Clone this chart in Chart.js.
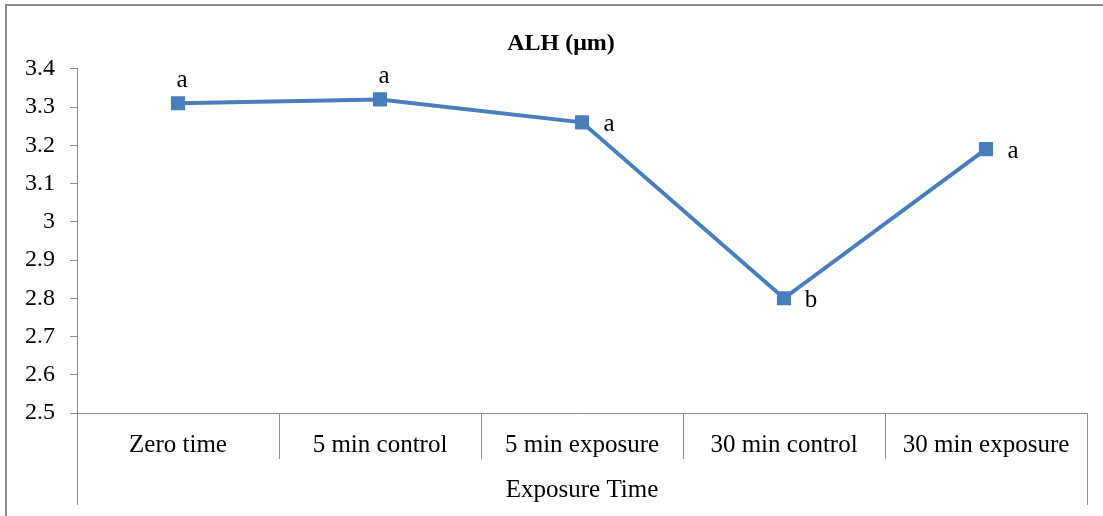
<!DOCTYPE html>
<html lang="en">
<head>
    <meta charset="UTF-8">
    <title>ALH</title>
    <script src="https://cdn.jsdelivr.net/npm/chart.js"></script>
    <style>
        html, body { margin: 0; padding: 0; background: #fff; overflow: hidden; }
        .frame { position: absolute; left: 5px; top: 4px; width: 1200px; height: 600px; border: 2px solid #8c8c8c; }
        .wrap { position: absolute; left: 0; top: 0; width: 1103px; height: 516px; }
    </style>
</head>
<body>
    <div class="frame"></div>
    <div class="wrap"><canvas id="alh"></canvas></div>

<script>
// values
var categories = ['Zero time', '5 min control', '5 min exposure', '30 min control', '30 min exposure'];
var alhValues = [3.31, 3.32, 3.26, 2.80, 3.19];
var letters = ['a', 'a', 'a', 'b', 'a'];
var yMin = 2.5;
var yMax = 3.4;
var yStep = 0.1;

var serif = "'Liberation Serif', 'Times New Roman', serif";
var axisGray = '#8c8c8c';

// significance letters next to each point
var letterPlugin = {
    id: 'letters',
    afterDatasetsDraw: function (chart, args, opts) {
        var ctx = chart.ctx;
        var meta = chart.getDatasetMeta(0);
        ctx.save();
        ctx.font = '25px ' + serif;
        ctx.fillStyle = '#000';
        ctx.textAlign = 'center';
        ctx.textBaseline = 'alphabetic';
        meta.data.forEach(function (pt, i) {
            if (opts.side[i] === 'top') {
                ctx.fillText(letters[i], pt.x + 4, pt.y - 16);
            } else {
                ctx.fillText(letters[i], pt.x + 27, pt.y + 9);
            }
        });
        ctx.restore();
    }
};

// outer category lines run down past the axis title,
// and the title sits a bit right like in the original
var frameLines = {
    id: 'frameLines',
    afterLayout: function (chart) {
        if (chart.titleBlock) chart.titleBlock.left = 35;
    },
    afterDraw: function (chart) {
        var ctx = chart.ctx;
        var area = chart.chartArea;
        var xs = chart.scales.x;
        ctx.save();
        ctx.strokeStyle = axisGray;
        ctx.lineWidth = 1;
        [area.left, area.right].forEach(function (x) {
            var px = Math.round(x) + 0.5;
            ctx.beginPath();
            ctx.moveTo(px, area.bottom);
            ctx.lineTo(px, xs.bottom - 11);
            ctx.stroke();
        });
        ctx.restore();
    }
};

new Chart(document.getElementById('alh'), {
    type: 'line',
    data: {
        labels: categories,
        datasets: [{
            label: 'ALH (µm)',
            data: alhValues,
            borderColor: '#4a7ebb',
            borderWidth: 4,
            pointStyle: 'rect',
            pointRadius: 10,
            pointHoverRadius: 10,
            pointBackgroundColor: '#4a7ebb',
            pointBorderWidth: 0,
            tension: 0
        }]
    },
    options: {
        responsive: true,
        maintainAspectRatio: false,
        animation: false,
        layout: {
            padding: { left: 12, right: 16, top: 0, bottom: 0 }
        },
        plugins: {
            legend: { display: false },
            tooltip: { enabled: false },
            title: {
                display: true,
                text: 'ALH (μm)',
                color: '#000',
                font: { family: serif, size: 24, weight: 'bold' },
                padding: { top: 29, bottom: 11 }
            },
            letters: { side: ['top', 'top', 'right', 'right', 'right'] }
        },
        scales: {
            x: {
                offset: true,
                afterFit: function (s) { s.height = 103; },
                grid: {
                    offset: true,
                    drawOnChartArea: false,
                    drawTicks: true,
                    tickLength: 46,
                    color: axisGray
                },
                border: { color: axisGray, width: 1 },
                ticks: {
                    color: '#000',
                    font: { family: serif, size: 25 },
                    maxRotation: 0,
                    autoSkip: false,
                    padding: -29
                },
                title: {
                    display: true,
                    text: 'Exposure Time',
                    color: '#000',
                    font: { family: serif, size: 25 },
                    padding: { top: 0, bottom: 11 }
                }
            },
            y: {
                min: yMin,
                max: yMax,
                afterFit: function (s) { s.width = 65; },
                grid: {
                    drawOnChartArea: false,
                    drawTicks: true,
                    tickLength: 7,
                    color: axisGray
                },
                border: { color: axisGray, width: 1 },
                ticks: {
                    stepSize: yStep,
                    color: '#000',
                    font: { family: serif, size: 24 },
                    padding: 15,
                    callback: function (v) { return String(Math.round(v * 10) / 10); }
                }
            }
        }
    },
    plugins: [letterPlugin, frameLines]
});
</script>
</body>
</html>
